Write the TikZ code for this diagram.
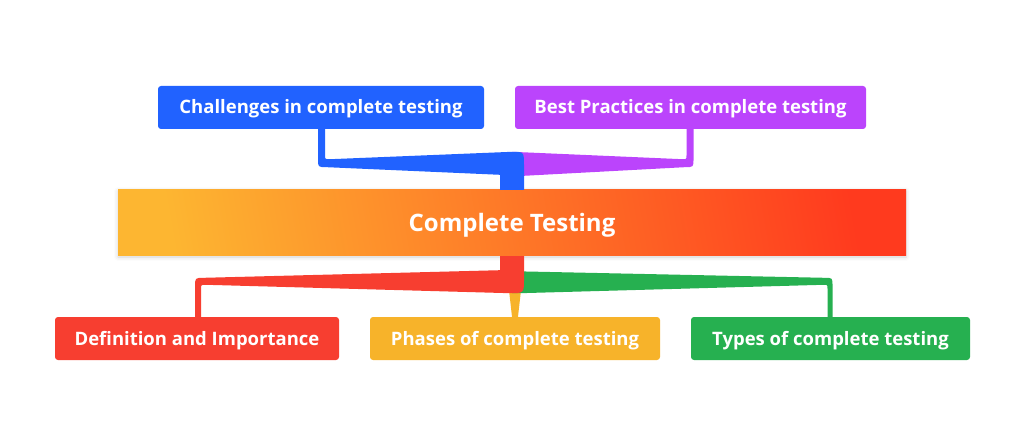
\documentclass[tikz,border=0pt]{standalone}
\usepackage{fontspec}
\setmainfont{Open Sans}
\usetikzlibrary{calc,shadows.blur}
\definecolor{cblue}{RGB}{33,98,255}
\definecolor{cpurple}{RGB}{187,68,252}
\definecolor{cred}{RGB}{247,62,48}
\definecolor{cyellow}{RGB}{247,179,42}
\definecolor{cgreen}{RGB}{38,176,80}
\definecolor{gradL}{RGB}{253,182,49}
\definecolor{gradR}{RGB}{255,58,30}
\tikzset{
  topic/.style={rounded corners=3pt, minimum height=43pt, inner sep=0pt, text=white,
    text height=13pt, text depth=0pt,
    font=\fontsize{18.5}{22}\selectfont\bfseries},
  central/.style={minimum width=788pt, minimum height=66pt, inner sep=0pt, text=white,
    text height=17pt, text depth=0pt,
    left color=gradL, right color=gradR, shading angle=100,
    blur shadow={shadow xshift=0pt, shadow yshift=-1pt, shadow opacity=18, shadow blur radius=4pt, shadow blur extra rounding=0pt},
    font=\fontsize{24}{30}\selectfont\bfseries}
}
\begin{document}
\begin{tikzpicture}[x=1pt,y=-1pt]
\useasboundingbox (0,0) rectangle (1025,446);
% nodes
\node[central] (ct) at (512,223) {Complete Testing};
\node[topic, fill=cblue, minimum width=326pt] (ch) at (321,107.5) {Challenges in complete testing};
\node[topic, fill=cpurple, minimum width=351pt] (bp) at (690.5,107.5) {Best Practices in complete testing};
\node[topic, fill=cred, minimum width=284pt] (de) at (197,338.5) {Definition and Importance};
\node[topic, fill=cyellow, minimum width=290pt] (ph) at (515,338.5) {Phases of complete testing};
\node[topic, fill=cgreen, minimum width=279pt] (ty) at (830.5,338.5) {Types of complete testing};
% branches
\fill[cpurple] ($(ct.north)+(0,-38)$) -- ($(bp.south)+(-8,30)$)
  .. controls ($(bp.south)+(-4,30)$) .. ($(bp.south)+(-4,26)$) -- ($(bp.south)+(-4,0)$)
  -- ($(bp.south)+(3,0)$) -- ($(bp.south)+(3,30)$)
  .. controls ($(bp.south)+(3,38)$) .. ($(bp.south)+(-6,38)$)
  -- ($(ct.north)+(12,-14)$) -- ($(ct.north)+(0,-14)$) -- cycle;
\fill[cblue] ($(ch.south)+(-3,0)$) -- ($(ch.south)+(-3,30)$)
  .. controls ($(ch.south)+(-3,38)$) .. ($(ch.south)+(6,38)$)
  -- ($(ct.north)+(-12,-15)$) -- ($(ct.north)+(-12,0)$) -- ($(ct.north)+(12,0)$)
  -- ($(ct.north)+(12,-24)$) .. controls ($(ct.north)+(12,-38)$) .. ($(ct.north)+(0,-38)$)
  -- ($(ch.south)+(9,30)$) .. controls ($(ch.south)+(4,30)$) .. ($(ch.south)+(4,26)$)
  -- ($(ch.south)+(4,0)$) -- cycle;
\fill[cyellow] ($(ct.south)+(-3,34)$) -- ($(ct.south)+(9,34)$) -- ($(ph.north)+(3,0)$) -- ($(ph.north)+(-3,0)$) -- cycle;
\fill[cgreen] ($(ct.south)+(0,15)$) -- ($(ty.north)+(-6,-39)$)
  .. controls ($(ty.north)+(2,-39)$) .. ($(ty.north)+(2,-31)$) -- ($(ty.north)+(2,0)$)
  -- ($(ty.north)+(-3,0)$) -- ($(ty.north)+(-3,-28)$)
  .. controls ($(ty.north)+(-3,-32)$) .. ($(ty.north)+(-7,-32)$)
  -- ($(ct.south)+(8,37)$) -- ($(ct.south)+(0,37)$) -- cycle;
\fill[cred] ($(ct.south)+(-12,0)$) -- ($(ct.south)+(12,0)$) -- ($(ct.south)+(12,22)$)
  .. controls ($(ct.south)+(12,37)$) .. ($(ct.south)+(-2,37)$)
  -- ($(de.north)+(9,-32)$) .. controls ($(de.north)+(4,-32)$) .. ($(de.north)+(4,-28)$)
  -- ($(de.north)+(4,0)$) -- ($(de.north)+(-2,0)$) -- ($(de.north)+(-2,-30)$)
  .. controls ($(de.north)+(-2,-39)$) .. ($(de.north)+(7,-39)$)
  -- ($(ct.south)+(-12,14)$) -- cycle;
\end{tikzpicture}
\end{document}
